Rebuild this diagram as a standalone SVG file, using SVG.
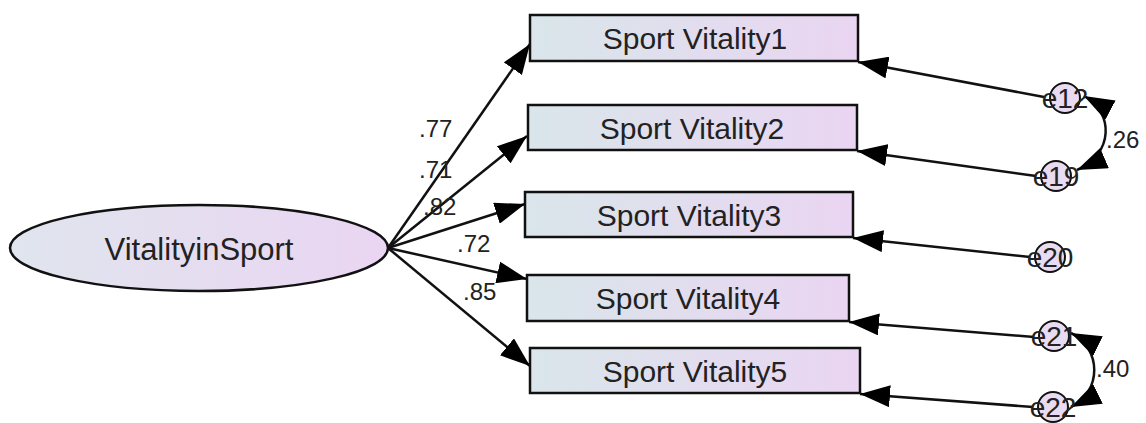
<svg xmlns="http://www.w3.org/2000/svg" width="1146" height="423" viewBox="0 0 1146 423">
  <style>
    .box { stroke: #111; stroke-width: 2.5; fill: url(#boxFill); }
    .lbl { font-family: "Liberation Sans", Arial, sans-serif; fill: #222; }
    .name { font-size: 30px; text-anchor: middle; }
    .coef { font-size: 24px; }
    .err { font-size: 28px; text-anchor: middle; }
    .path { stroke: #111; stroke-width: 2.5; fill: none; }
    .circ { stroke: #111; stroke-width: 2; fill: #e9dcf2; }
  </style>
  <defs>
    <linearGradient id="boxFill" x1="0" y1="0" x2="1" y2="0">
      <stop offset="0" stop-color="#d9e6ea"/>
      <stop offset="1" stop-color="#ead5f2"/>
    </linearGradient>
    <linearGradient id="ellFill" x1="0" y1="0" x2="1" y2="0">
      <stop offset="0" stop-color="#e0e5ee"/>
      <stop offset="1" stop-color="#ead5f2"/>
    </linearGradient>
    <marker id="head" viewBox="0 0 30 22" refX="30" refY="11" markerWidth="30" markerHeight="22" markerUnits="userSpaceOnUse" orient="auto-start-reverse">
      <path d="M0,0 L30,11 L0,22 z" fill="#000"/>
    </marker>
  </defs>

  <!-- connectors -->
  <g id="connectors">
    <!-- loadings from the latent factor -->
    <line class="path" x1="388" y1="248" x2="530" y2="44" marker-end="url(#head)"/>
    <line class="path" x1="388" y1="248" x2="527" y2="136" marker-end="url(#head)"/>
    <line class="path" x1="388" y1="248" x2="525" y2="204" marker-end="url(#head)"/>
    <line class="path" x1="388" y1="248" x2="527" y2="279" marker-end="url(#head)"/>
    <line class="path" x1="388" y1="248" x2="530" y2="366" marker-end="url(#head)"/>
    <!-- error terms -->
    <line class="path" x1="1044" y1="97" x2="858" y2="62" marker-end="url(#head)"/>
    <line class="path" x1="1036" y1="176" x2="857" y2="151" marker-end="url(#head)"/>
    <line class="path" x1="1030" y1="257" x2="853" y2="238" marker-end="url(#head)"/>
    <line class="path" x1="1034" y1="337" x2="849" y2="322" marker-end="url(#head)"/>
    <line class="path" x1="1033" y1="407" x2="860" y2="394" marker-end="url(#head)"/>
    <!-- covariances -->
    <path class="path" d="M1084,96 C1114,112 1114,154 1077,170" marker-start="url(#head)" marker-end="url(#head)"/>
    <path class="path" d="M1071,333 C1102,348 1102,392 1071,407" marker-start="url(#head)" marker-end="url(#head)"/>
    <!-- coefficients -->
    <text class="lbl coef" x="419" y="137">.77</text>
    <text class="lbl coef" x="419" y="178">.71</text>
    <text class="lbl coef" x="423" y="215">.82</text>
    <text class="lbl coef" x="457" y="252">.72</text>
    <text class="lbl coef" x="463" y="300">.85</text>
    <text class="lbl coef" x="1106" y="148">.26</text>
    <text class="lbl coef" x="1096" y="377">.40</text>
  </g>

  <g id="VitalityinSport">
    <ellipse cx="199" cy="248" rx="189" ry="43" fill="url(#ellFill)" stroke="#111" stroke-width="2.5"/>
    <text class="lbl name" x="199" y="260" style="font-size:31px">VitalityinSport</text>
  </g>

  <g id="SportVitality1">
    <rect class="box" x="530" y="15" width="328" height="46"/>
    <text class="lbl name" x="695" y="49">Sport Vitality1</text>
  </g>
  <g id="SportVitality2">
    <rect class="box" x="528" y="105" width="329" height="45"/>
    <text class="lbl name" x="692" y="139">Sport Vitality2</text>
  </g>
  <g id="SportVitality3">
    <rect class="box" x="525" y="192" width="328" height="45"/>
    <text class="lbl name" x="689" y="226">Sport Vitality3</text>
  </g>
  <g id="SportVitality4">
    <rect class="box" x="527" y="275" width="322" height="46"/>
    <text class="lbl name" x="688" y="309">Sport Vitality4</text>
  </g>
  <g id="SportVitality5">
    <rect class="box" x="530" y="348" width="330" height="45"/>
    <text class="lbl name" x="695" y="382">Sport Vitality5</text>
  </g>

  <g id="e12">
    <circle class="circ" cx="1065" cy="98" r="15"/>
    <text class="lbl err" x="1065" y="108">e12</text>
  </g>
  <g id="e19">
    <circle class="circ" cx="1056" cy="176" r="15"/>
    <text class="lbl err" x="1056" y="186">e19</text>
  </g>
  <g id="e20">
    <circle class="circ" cx="1050" cy="257" r="15"/>
    <text class="lbl err" x="1050" y="267">e20</text>
  </g>
  <g id="e21">
    <circle class="circ" cx="1054" cy="336" r="15"/>
    <text class="lbl err" x="1054" y="346">e21</text>
  </g>
  <g id="e22">
    <circle class="circ" cx="1053" cy="407" r="15"/>
    <text class="lbl err" x="1053" y="417">e22</text>
  </g>
</svg>
